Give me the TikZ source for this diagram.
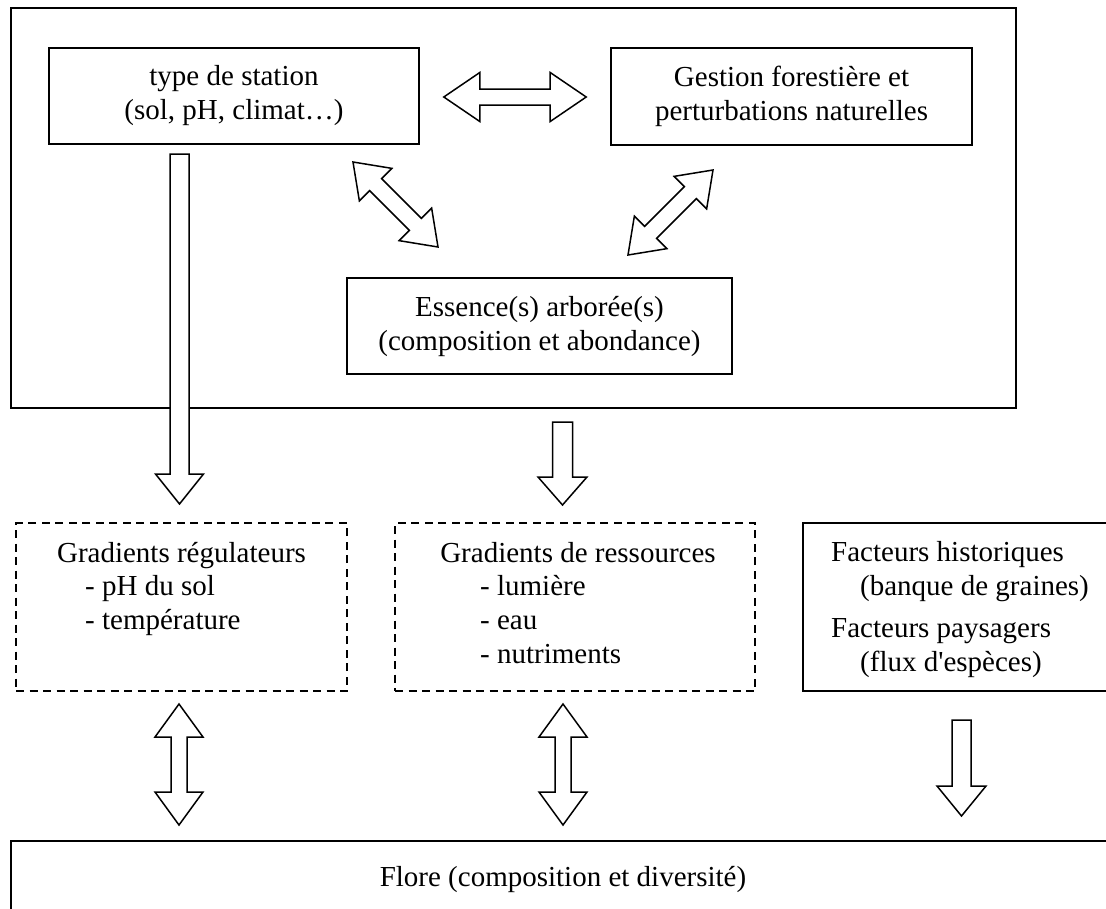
\documentclass[tikz,border=0pt]{standalone}
\usepackage{fontspec}
\setmainfont{Liberation Serif}[Ligatures=TeXOff]
\usetikzlibrary{calc}
\tikzset{
  box/.style={draw, line width=1.6pt, inner sep=0pt, align=center},
  dbox/.style={draw, line width=1.4pt, dash pattern=on 8pt off 5.5pt, inner sep=0pt},
  blk/.style={draw, fill=white, line width=1.5pt, line join=miter},
  txt/.style={inner sep=0pt, anchor=base west},
  ctxt/.style={inner sep=0pt, anchor=base},
}
% double-headed block arrow: tip names, shaft half width, head half width, head length
\newcommand{\dblblock}[5]{%
  \coordinate (hA) at ($(#1)!#5!(#2)$);
  \coordinate (hB) at ($(#2)!#5!(#1)$);
  \draw[blk] (#1) -- ($(hA)!#4!90:(#2)$) -- ($(hA)!#3!90:(#2)$)
    -- ($(hB)!#3!-90:(#1)$) -- ($(hB)!#4!-90:(#1)$) -- (#2)
    -- ($(hB)!#4!90:(#1)$) -- ($(hB)!#3!90:(#1)$)
    -- ($(hA)!#3!-90:(#2)$) -- ($(hA)!#4!-90:(#2)$) -- cycle;}
% single block arrow: tail name, tip name, shaft half width, head half width, head length
\newcommand{\sglblock}[5]{%
  \coordinate (hB) at ($(#2)!#5!(#1)$);
  \draw[blk] ($(#1)!#3!90:(#2)$) -- ($(hB)!#3!-90:(#1)$) -- ($(hB)!#4!-90:(#1)$)
    -- (#2) -- ($(hB)!#4!90:(#1)$) -- ($(hB)!#3!90:(#1)$)
    -- ($(#1)!#3!-90:(#2)$) -- cycle;}
\begin{document}
\begin{tikzpicture}[x=1pt, y=-1pt, font=\fontsize{29}{34}\selectfont]
\useasboundingbox (0,0) rectangle (1106,908);
\clip (0,0) rectangle (1106,908);
\fill[white] (0,0) rectangle (1106,908);

% upper frame and its boxes
\node[box, minimum width=1005pt, minimum height=400pt] (outer) at (513.5,208) {};
\node[box, minimum width=370pt, minimum height=96pt] (station) at (234,96)
  {type de station\\(sol, pH, climat…)};
\node[box, minimum width=361pt, minimum height=97pt] (gestion) at (791.5,96.5)
  {Gestion forestière et\\perturbations naturelles};
\node[box, minimum width=385pt, minimum height=96pt] (essence) at (539.5,326)
  {Essence(s) arborée(s)\\(composition et abondance)};

% middle boxes
\node[dbox, minimum width=331pt, minimum height=168pt] (regul) at (181.5,607) {};
\node[dbox, minimum width=360pt, minimum height=168pt] (ressou) at (575,607) {};
\node[box, minimum width=317pt, minimum height=168pt] (histo) at (961.5,607) {};
\node[box, minimum width=1109pt, minimum height=100pt] (flore) at (565.5,891) {};

% texts
\node[ctxt] (r1) at (181.5,562) {Gradients régulateurs};
\node[txt] (r2) at (85,595) {- pH du sol};
\node[txt] (r3) at (85,629) {- température};
\node[ctxt] (s1) at (578,562) {Gradients de ressources};
\node[txt] (s2) at (480,595) {- lumière};
\node[txt] (s3) at (480,629) {- eau};
\node[txt] (s4) at (480,663) {- nutriments};
\node[txt] (f1) at (831,561) {Facteurs historiques};
\node[txt] (f2) at (860,595) {(banque de graines)};
\node[txt] (f3) at (831,637) {Facteurs paysagers};
\node[txt] (f4) at (860,671) {(flux d'espèces)};
\node[ctxt] (fl) at (563,886) {Flore (composition et diversité)};

% arrow end points
\coordinate (hx1) at ([xshift=24pt, yshift=-1pt]station.east);
\coordinate (hx2) at ([xshift=-24pt, yshift=-0.5pt]gestion.west);
\coordinate (dl1) at (353,162);
\coordinate (dl2) at (438,247);
\coordinate (dr1) at (628,255);
\coordinate (dr2) at (713,170);
\coordinate (v1a) at (179.5,154);
\coordinate (v1b) at (179.5,504);
\coordinate (v2a) at (562.5,422);
\coordinate (v2b) at (562.5,505);
\coordinate (b1a) at (179,704);
\coordinate (b1b) at (179,825);
\coordinate (b2a) at (563,704);
\coordinate (b2b) at (563,825);
\coordinate (b3a) at (961.5,720);
\coordinate (b3b) at (961.5,816);

% block arrows
\dblblock{hx1}{hx2}{8pt}{24.5pt}{36pt}
\dblblock{dl1}{dl2}{8.5pt}{23pt}{32pt}
\dblblock{dr1}{dr2}{8.5pt}{23pt}{32pt}
\sglblock{v1a}{v1b}{9.5pt}{24pt}{30pt}
\sglblock{v2a}{v2b}{10pt}{24.5pt}{28pt}
\dblblock{b1a}{b1b}{8pt}{24pt}{33pt}
\dblblock{b2a}{b2b}{8pt}{24pt}{33pt}
\sglblock{b3a}{b3b}{9.5pt}{24.5pt}{30pt}
\end{tikzpicture}
\end{document}
